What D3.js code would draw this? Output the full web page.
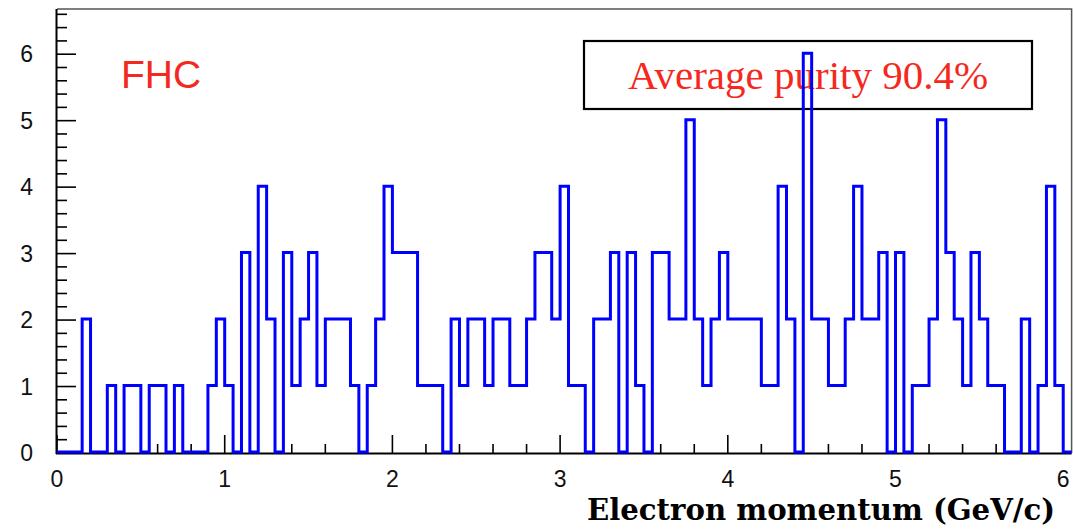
<!DOCTYPE html>
<html>
<head>
<meta charset="utf-8">
<title>Electron momentum</title>
<script src="https://d3js.org/d3.v7.min.js"></script>
<style>
  body { margin: 0; background: #fff; }
  .tick-label { font-family: "Liberation Sans", Arial, sans-serif; font-size: 23px; fill: #111; }
</style>
</head>
<body>
<script>
// bin width 0.05 GeV/c, bins start at 0
var binWidth = 0.05;
var counts = [
  0, 0, 0, 2, 0, 0, 1, 0, 1, 1, 0, 1, 1, 0, 1, 0, 0, 0, 1, 2,
  1, 0, 3, 0, 4, 2, 0, 3, 1, 2, 3, 1, 2, 2, 2, 1, 0, 1, 2, 4,
  3, 3, 3, 1, 1, 1, 0, 2, 1, 2, 2, 1, 2, 2, 1, 1, 2, 3, 3, 2,
  4, 1, 1, 0, 2, 2, 3, 0, 3, 1, 0, 3, 3, 2, 2, 5, 2, 1, 2, 3,
  2, 2, 2, 2, 1, 1, 4, 2, 0, 6, 2, 2, 1, 1, 2, 4, 2, 2, 3, 0,
  3, 0, 1, 1, 2, 5, 3, 2, 1, 3, 2, 1, 1, 0, 0, 2, 0, 1, 4, 1,
  0
];
var xTicks = [0, 1, 2, 3, 4, 5, 6];
var yTicks = [0, 1, 2, 3, 4, 5, 6];
var xTitle = "Electron momentum (GeV/c)";
var tagText = "FHC";
var purityText = "Average purity 90.4%";

var w = 1073, h = 531;
var svg = d3.select("body").append("svg")
    .attr("width", w)
    .attr("height", h);

var x = d3.scaleLinear().domain([0, 6.05]).range([57, 1071.6]);
var y = d3.scaleLinear().domain([0, 6.68]).range([453, 9]);

// frame (top/right in grey)
svg.append("path")
    .attr("d", "M" + x.range()[0] + "," + y.range()[1] + "H" + x.range()[1] + "V" + y.range()[0])
    .attr("fill", "none")
    .attr("stroke", "#555")
    .attr("stroke-width", 1.5);

// purity box drawn under the histogram
svg.append("rect")
    .attr("x", 584).attr("y", 41)
    .attr("width", 448).attr("height", 68)
    .attr("fill", "#fff")
    .attr("stroke", "#000")
    .attr("stroke-width", 2.2);
svg.append("text")
    .attr("x", 808).attr("y", 89)
    .attr("text-anchor", "middle")
    .attr("font-family", "'Liberation Serif', 'Times New Roman', serif")
    .attr("font-size", 41)
    .attr("fill", "#f5281e")
    .text(purityText);

svg.append("text")
    .attr("x", 121).attr("y", 88)
    .attr("font-family", "'Liberation Sans', Arial, sans-serif")
    .attr("font-size", 39)
    .attr("fill", "#f5281e")
    .text(tagText);

// x axis: ticks point inward (up)
var xAxis = svg.append("g");
xAxis.append("line")
    .attr("x1", x.range()[0] - 1).attr("x2", x.range()[1])
    .attr("y1", 453.5).attr("y2", 453.5)
    .attr("stroke", "#000").attr("stroke-width", 2);
var xMinor = d3.range(0, 31).map(function(i) { return i * 0.2; });
xAxis.selectAll("line.minor")
    .data(xMinor)
    .enter().append("line")
    .attr("class", "minor")
    .attr("x1", function(d) { return x(d); })
    .attr("x2", function(d) { return x(d); })
    .attr("y1", 453)
    .attr("y2", function(d, i) { return i % 5 === 0 ? 435 : 444; })
    .attr("stroke", "#000").attr("stroke-width", 1.6);
xAxis.selectAll("text")
    .data(xTicks)
    .enter().append("text")
    .attr("class", "tick-label")
    .attr("x", function(d) { return x(d); })
    .attr("y", 487)
    .attr("text-anchor", "middle")
    .text(function(d) { return d; });

// y axis: ticks point inward (right)
var yAxis = svg.append("g");
yAxis.append("line")
    .attr("x1", 56.5).attr("x2", 56.5)
    .attr("y1", y.range()[1]).attr("y2", 454)
    .attr("stroke", "#000").attr("stroke-width", 2);
var yMinor = d3.range(0, 34).map(function(i) { return i * 0.2; });
yAxis.selectAll("line.minor")
    .data(yMinor)
    .enter().append("line")
    .attr("class", "minor")
    .attr("y1", function(d) { return y(d); })
    .attr("y2", function(d) { return y(d); })
    .attr("x1", 57)
    .attr("x2", function(d, i) { return i % 5 === 0 ? 76 : 67; })
    .attr("stroke", "#000").attr("stroke-width", 1.6);
yAxis.selectAll("text")
    .data(yTicks)
    .enter().append("text")
    .attr("class", "tick-label")
    .attr("x", 33)
    .attr("y", function(d) { return y(d) + 8; })
    .attr("text-anchor", "end")
    .text(function(d) { return d; });

// histogram outline as steps
var pts = [[0, 0]];
counts.forEach(function(c, i) {
    pts.push([i * binWidth, c]);
    pts.push([(i + 1) * binWidth, c]);
});
var line = d3.line()
    .x(function(d) { return x(d[0]); })
    .y(function(d) { return y(d[1]) - 1; });
svg.append("path")
    .datum(pts)
    .attr("d", line)
    .attr("fill", "none")
    .attr("stroke", "#0000ff")
    .attr("stroke-width", 3);

svg.append("text")
    .attr("x", 1055).attr("y", 520)
    .attr("text-anchor", "end")
    .attr("font-family", "'DejaVu Serif', 'Liberation Serif', serif")
    .attr("font-weight", "bold")
    .attr("font-size", 29)
    .attr("textLength", 468)
    .attr("lengthAdjust", "spacingAndGlyphs")
    .text(xTitle);
</script>
</body>
</html>
